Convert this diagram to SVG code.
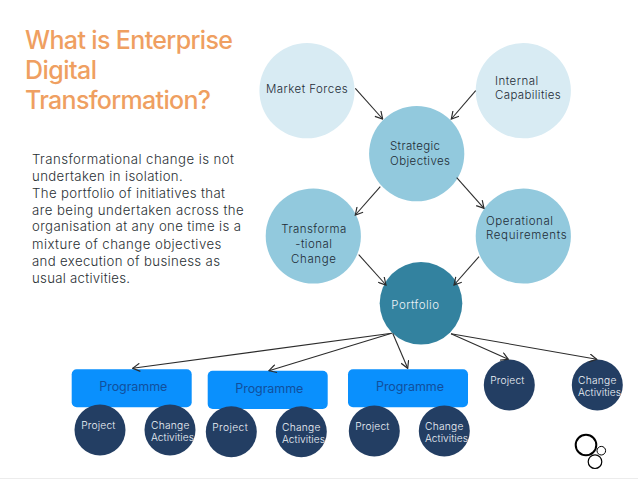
<svg xmlns="http://www.w3.org/2000/svg" width="638" height="479" viewBox="0 0 638 479">
<style>
text{font-family:"Inter","Lato","Liberation Sans",sans-serif}
.title{font-size:25px;font-weight:500;fill:#ef9f61}
.body{font-size:13.2px;font-weight:300;fill:#2a3034}
.dk{font-size:11.5px;font-weight:300;fill:#1e2c36}
.lt{font-size:10.2px;font-weight:300;fill:#eef3f8}
.pf{font-size:11.5px;font-weight:300;fill:#eef3f8}
.pg{font-size:12.5px;font-weight:400;fill:#114f9c}
.light{fill:#d8ebf3}.mid{fill:#92c9dd}.deep{fill:#33829f}.navy{fill:#233e63}.blue{fill:#0a90fd}
.c{fill:none;stroke:#2c2c2c;stroke-width:1.1;marker-end:url(#a)}
.logo{fill:#fff;stroke:#000}
</style>
<defs><marker id="a" viewBox="0 0 10 10" refX="9" refY="5" markerWidth="9" markerHeight="9" markerUnits="userSpaceOnUse" orient="auto"><path d="M1 .5L9 5L1 9.5" fill="none" stroke="#2c2c2c" stroke-width="1.3"/></marker></defs>
<rect width="638" height="479" fill="#fff"/>
<rect y="478" width="638" height="1" fill="#ececec"/>
<g id="heading">
<text class="title" x="25" y="49.3" textLength="208">What is Enterprise</text>
<text class="title" x="25" y="79.3" textLength="72">Digital</text>
<text class="title" x="25" y="109" textLength="186">Transformation?</text>
</g>
<g id="description">
<text class="body" x="32" y="163.5" textLength="202">Transformational change is not</text>
<text class="body" x="32" y="180.5" textLength="150.7">undertaken in isolation.</text>
<text class="body" x="32" y="197.7" textLength="193">The portfolio of initiatives that</text>
<text class="body" x="32" y="214.7" textLength="211.7">are being undertaken across the</text>
<text class="body" x="32" y="231.3" textLength="209">organisation at any one time is a</text>
<text class="body" x="32" y="248.7" textLength="189.3">mixture of change objectives</text>
<text class="body" x="32" y="265.7" textLength="188">and execution of business as</text>
<text class="body" x="32" y="282.7" textLength="98">usual activities.</text>
</g>
<g id="market-forces"><circle class="light" cx="307" cy="90.7" r="47.6"/><text class="dk" x="266" y="93.3" textLength="81.7">Market Forces</text></g>
<g id="internal-capabilities"><circle class="light" cx="523.3" cy="90.7" r="47.6"/><text class="dk" x="495" y="85" textLength="43.3">Internal</text><text class="dk" x="495" y="98.7" textLength="65.7">Capabilities</text></g>
<g id="strategic-objectives"><circle class="mid" cx="416.7" cy="153.7" r="47.6"/><text class="dk" x="390" y="150" textLength="50">Strategic</text><text class="dk" x="390" y="165" textLength="60">Objectives</text></g>
<g id="transformational-change"><circle class="mid" cx="313.3" cy="236" r="47.6"/><text class="dk" x="281.3" y="233.3" textLength="65">Transforma</text><text class="dk" x="295.3" y="248.3" textLength="36.7">-tional</text><text class="dk" x="291" y="263" textLength="45">Change</text></g>
<g id="operational-requirements"><circle class="mid" cx="523.3" cy="236" r="47.6"/><text class="dk" x="486" y="225" textLength="67">Operational</text><text class="dk" x="486" y="238.7" textLength="80.7">Requirements</text></g>
<g id="portfolio"><circle class="deep" cx="421" cy="303.3" r="41.3"/><text class="pf" x="391.3" y="309.3" textLength="47.7">Portfolio</text></g>
<g id="programme-1"><rect class="blue" x="71.7" y="369.3" width="120" height="38" rx="5"/><text class="pg" x="99.3" y="391.3" textLength="68">Programme</text></g>
<g id="programme-2"><rect class="blue" x="207.7" y="370.7" width="120" height="38.3" rx="5"/><text class="pg" x="235.3" y="393.3" textLength="68">Programme</text></g>
<g id="programme-3"><rect class="blue" x="348" y="369.3" width="120" height="38" rx="5"/><text class="pg" x="376" y="391.3" textLength="68">Programme</text></g>
<g id="project-1"><circle class="navy" cx="100" cy="430" r="25.5"/><text class="lt" x="81.3" y="429" textLength="34">Project</text></g>
<g id="change-1"><circle class="navy" cx="170" cy="430" r="25.5"/><text class="lt" x="151" y="429.3" textLength="38.3">Change</text><text class="lt" x="151" y="441.3" textLength="43">Activities</text></g>
<g id="project-2"><circle class="navy" cx="231.3" cy="431.7" r="25.5"/><text class="lt" x="212.3" y="431" textLength="35.4">Project</text></g>
<g id="change-2"><circle class="navy" cx="301.3" cy="431.7" r="25.5"/><text class="lt" x="282" y="431" textLength="38.3">Change</text><text class="lt" x="282" y="443" textLength="43">Activities</text></g>
<g id="project-3"><circle class="navy" cx="374.3" cy="431" r="25.5"/><text class="lt" x="355.3" y="430" textLength="34">Project</text></g>
<g id="change-3"><circle class="navy" cx="444.3" cy="431" r="25.5"/><text class="lt" x="425" y="430" textLength="38.3">Change</text><text class="lt" x="425" y="442" textLength="43">Activities</text></g>
<g id="project-4"><circle class="navy" cx="509.3" cy="385" r="25.5"/><text class="lt" x="490.3" y="383.7" textLength="34">Project</text></g>
<g id="change-4"><circle class="navy" cx="597.3" cy="385" r="25.5"/><text class="lt" x="578" y="383.7" textLength="38.3">Change</text><text class="lt" x="578" y="395.7" textLength="43">Activities</text></g>
<g id="connectors">
<path class="c" d="M355.3 88.3L382.7 119"/>
<path class="c" d="M475.7 90.7L451.3 119"/>
<path class="c" d="M380.3 186.7L355.3 215"/>
<path class="c" d="M456.7 177.7L484 208.3"/>
<path class="c" d="M358.7 254.7L386 285"/>
<path class="c" d="M479 256.7L454 285"/>
<path class="c" d="M391.7 333.3L132.7 368.3"/>
<path class="c" d="M391.7 333.3L269 370.7"/>
<path class="c" d="M392.7 333.3L407.7 368.3"/>
<path class="c" d="M451 333.7L508.3 359.3"/>
<path class="c" d="M451 333.7L596.7 359.3"/>
</g>
<g id="logo">
<circle class="logo" cx="586" cy="445" r="10.3" stroke-width="2"/>
<circle class="logo" cx="601.3" cy="450.7" r="4.3" stroke-width="1"/>
<circle class="logo" cx="595" cy="461.7" r="6.8" stroke-width="1.2"/>
</g>
</svg>
